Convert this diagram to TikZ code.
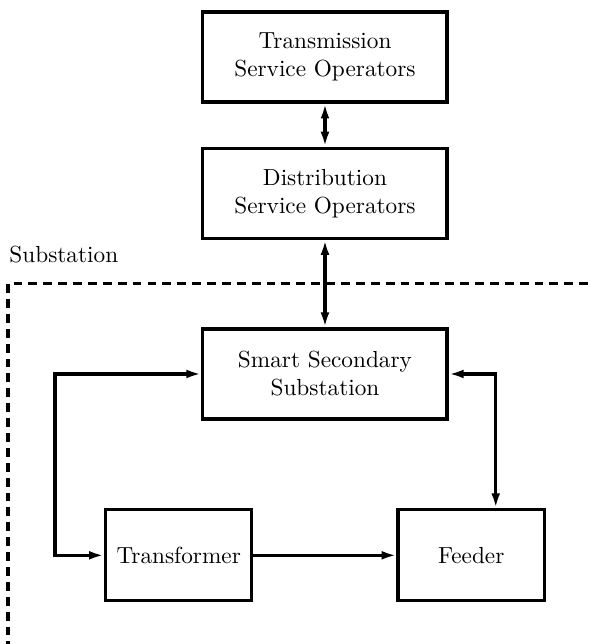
\documentclass[tikz,border=0pt]{standalone}
\usepackage{amsmath}
\usepackage{tikz}
\usetikzlibrary{arrows.meta}
\tikzstyle{block} = [draw, line width=1.4pt, minimum width=3.69cm, minimum height=1.36cm, align=center]
\tikzstyle{unit} = [draw, line width=1.4pt, minimum width=2.21cm, minimum height=1.375cm, align=center]
\tikzstyle{link} = [line width=1.4pt, >={Latex[length=6.4pt,width=3.8pt]}]
\tikzstyle{frame} = [line width=1.4pt, dash pattern=on 3.8pt off 2.6pt]

\begin{document}
\begin{tikzpicture}
        \useasboundingbox (0,0) rectangle (8.93,-9.73);
        \clip (0,0) rectangle (8.93,-9.73);
        \node (tso) [block] at (4.91,-0.86) {Transmission\\Service Operators};
        \node (dso) [block, below of=tso, yshift=-1.06cm] {Distribution\\Service Operators};
        \node (sss) [block, below of=dso, yshift=-1.73cm] {Smart Secondary\\Substation};
        \node (trans) [unit, below of=sss, yshift=-1.74cm, xshift=-2.21cm] {Transformer};
        \node (feeder) [unit, right of=trans, xshift=3.42cm] {Feeder};
        \node (sublabel) [anchor=base west, inner sep=0pt] at (0.136,-3.96) {Substation};
        \coordinate (lft) at ([xshift=-0.74cm]trans.west);
        \coordinate (rgt) at ([xshift=0.37cm]feeder.north);
        \draw [frame] (0.121,-10.5) -- (0.121,-4.285) -- (9.5,-4.285);
        \draw [link, <->] (tso) -- (dso);
        \draw [link, <->] (dso) -- (sss);
        \draw [link, <->] (sss.west) -- (sss.west -| lft) -- (lft) -- (trans.west);
        \draw [link, <->] (sss.east) -| (rgt);
        \draw [link, ->] (trans) -- (feeder);
    \end{tikzpicture}
\end{document}
